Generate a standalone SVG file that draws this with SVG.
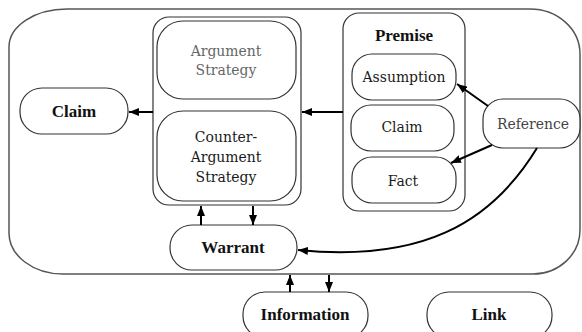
<svg xmlns="http://www.w3.org/2000/svg" width="582" height="332" viewBox="0 0 582 332">
  <defs>
    <marker id="arrow" viewBox="0 0 10 8" refX="10" refY="4" markerWidth="10" markerHeight="8" markerUnits="userSpaceOnUse" orient="auto">
      <path d="M0,0 L10,4 L0,8 Z" fill="#000"/>
    </marker>
    <style>
      .box { fill: #fff; stroke: #333; stroke-width: 1.2; }
      .frame { fill: none; stroke: #555; stroke-width: 1.5; }
      .t { font-family: 'DejaVu Serif Condensed', 'DejaVu Serif', serif; font-stretch: condensed; font-size: 15.5px; text-anchor: middle; fill: #1a1a1a; }
      .b { font-family: 'Liberation Serif', serif; font-stretch: normal; font-size: 17px; font-weight: bold; fill: #111; }
      .grey { fill: #666; }
      .ref { fill: #444; }
      .edge { fill: none; stroke: #000; stroke-width: 2; marker-end: url(#arrow); }
    </style>
  </defs>
  <rect width="582" height="332" fill="#fff"/>

  <!-- outer boundary -->
  <path class="frame" d="M67,9 H530 A50 45 0 0 1 580 54 V230 A47 44 0 0 1 533 274 H63 A54 41 0 0 1 9 233 V47 A58 38 0 0 1 67 9 Z"/>

  <g id="claim">
    <rect class="box" x="20" y="88" width="108" height="46" rx="22"/>
    <text class="t b" x="74" y="117">Claim</text>
  </g>

  <g id="strategy">
    <rect class="box" x="153" y="17" width="148" height="188" rx="16"/>
    <g id="argument-strategy">
      <rect class="box" x="157" y="21" width="139" height="78" rx="26"/>
      <text class="t grey" x="226" y="56">Argument</text>
      <text class="t grey" x="226" y="75">Strategy</text>
    </g>
    <g id="counter-argument-strategy">
      <rect class="box" x="157" y="111" width="139" height="90" rx="26"/>
      <text class="t" x="226" y="142">Counter-</text>
      <text class="t" x="226" y="162">Argument</text>
      <text class="t" x="226" y="182">Strategy</text>
    </g>
  </g>

  <g id="premise">
    <rect class="box" x="343" y="13" width="122" height="198" rx="16"/>
    <text class="t b" x="404" y="41">Premise</text>
    <g id="assumption">
      <rect class="box" x="352" y="54" width="104" height="46" rx="20"/>
      <text class="t" x="404" y="82">Assumption</text>
    </g>
    <g id="premise-claim">
      <rect class="box" x="351" y="105" width="103" height="46" rx="20"/>
      <text class="t" x="402" y="132">Claim</text>
    </g>
    <g id="fact">
      <rect class="box" x="352" y="157" width="104" height="46" rx="20"/>
      <text class="t" x="403" y="186">Fact</text>
    </g>
  </g>

  <g id="reference">
    <rect class="box" x="483" y="99" width="97" height="49" rx="20"/>
    <text class="t ref" x="533" y="129">Reference</text>
  </g>

  <g id="warrant">
    <rect class="box" x="170" y="225" width="127" height="45" rx="22"/>
    <text class="t b" x="233" y="253">Warrant</text>
  </g>

  <g id="information">
    <rect class="box" x="243" y="292" width="125" height="46" rx="22"/>
    <text class="t b" x="305" y="320">Information</text>
  </g>

  <g id="link">
    <rect class="box" x="427" y="292" width="125" height="46" rx="22"/>
    <text class="t b" x="489" y="320">Link</text>
  </g>

  <g id="connectors">
    <line class="edge" x1="153" y1="112" x2="129" y2="112"/>
    <line class="edge" x1="343" y1="112" x2="302" y2="112"/>
    <line class="edge" x1="488" y1="106" x2="457" y2="84"/>
    <line class="edge" x1="492" y1="145" x2="451" y2="163"/>
    <path class="edge" d="M537,148 C490,225 420,262 298,250"/>
    <line class="edge" x1="201" y1="225" x2="201" y2="206"/>
    <line class="edge" x1="253" y1="206" x2="253" y2="225"/>
    <line class="edge" x1="290" y1="292" x2="290" y2="275"/>
    <line class="edge" x1="329" y1="275" x2="329" y2="292"/>
  </g>
</svg>
